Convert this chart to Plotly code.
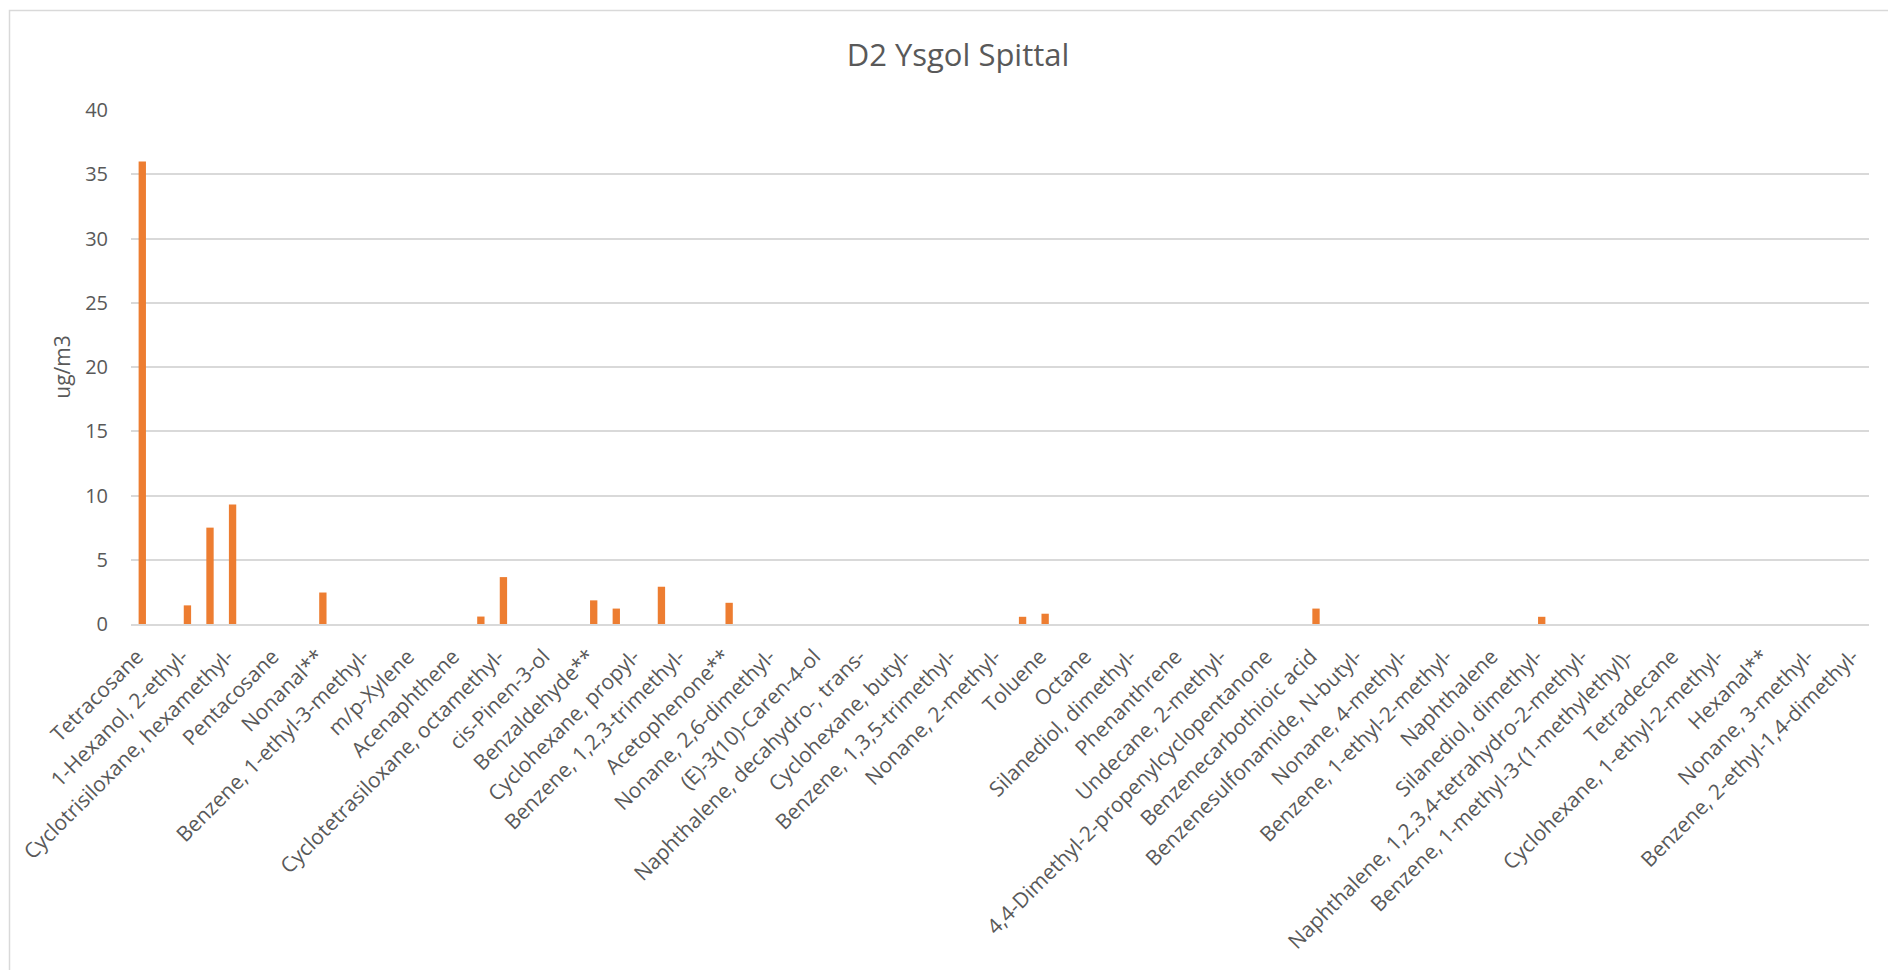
import plotly.graph_objects as go

# Category labels shown on the axis (every other compound is labelled)
shown_labels = [
    "Tetracosane", "1-Hexanol, 2-ethyl-", "Cyclotrisiloxane, hexamethyl-", "Pentacosane",
    "Nonanal**", "Benzene, 1-ethyl-3-methyl-", "m/p-Xylene", "Acenaphthene",
    "Cyclotetrasiloxane, octamethyl-", "cis-Pinen-3-ol", "Benzaldehyde**", "Cyclohexane, propyl-",
    "Benzene, 1,2,3-trimethyl-", "Acetophenone**", "Nonane, 2,6-dimethyl-", "(E)-3(10)-Caren-4-ol",
    "Naphthalene, decahydro-, trans-", "Cyclohexane, butyl-", "Benzene, 1,3,5-trimethyl-",
    "Nonane, 2-methyl-", "Toluene", "Octane", "Silanediol, dimethyl-", "Phenanthrene",
    "Undecane, 2-methyl-", "4,4-Dimethyl-2-propenylcyclopentanone", "Benzenecarbothioic acid",
    "Benzenesulfonamide, N-butyl-", "Nonane, 4-methyl-", "Benzene, 1-ethyl-2-methyl-",
    "Naphthalene", "Silanediol, dimethyl-", "Naphthalene, 1,2,3,4-tetrahydro-2-methyl-",
    "Benzene, 1-methyl-3-(1-methylethyl)-", "Tetradecane", "Cyclohexane, 1-ethyl-2-methyl-",
    "Hexanal**", "Nonane, 3-methyl-", "Benzene, 2-ethyl-1,4-dimethyl-",
]

# Compound positions (77 compounds in the chart)
compound_index = list(range(77))

# Concentrations (ug/m3) per compound
values = [
    36.0, 0, 1.45, 7.5, 9.3, 0, 0, 0, 2.45, 0,
    0, 0, 0, 0, 0, 0.58, 3.65, 0, 0, 0,
    1.84, 1.2, 0, 2.9, 0, 0, 1.65, 0, 0, 0,
    0, 0, 0, 0, 0, 0, 0, 0, 0, 0.56,
    0.8, 0, 0, 0, 0, 0, 0, 0, 0, 0,
    0, 0, 1.2, 0, 0, 0, 0, 0, 0, 0,
    0, 0, 0.56, 0, 0, 0, 0, 0, 0, 0,
    0, 0, 0, 0, 0, 0, 0,
]

label_positions = compound_index[::2]

W, H = 1888, 970
L, R = 131, 1869
T, B = 110.4, 623.6
pw, ph = R - L, B - T

def px_to_paper_x(px):
    return (px - L) / pw

def px_to_paper_y(py):
    return (B - py) / ph

FONT = "Open Sans"
TXT = "#595959"
GRID = "#d9d9d9"

fig = go.Figure(
    go.Bar(
        x=compound_index,
        y=values,
        marker=dict(color="#ED7D31", line=dict(width=0)),
        hoverinfo="x+y",
    )
)

fig.update_layout(
    width=W,
    height=H,
    margin=dict(l=L, r=W - R, t=T, b=H - B, autoexpand=False),
    paper_bgcolor="white",
    plot_bgcolor="white",
    bargap=0.675,
    showlegend=False,
    font=dict(family=FONT, color=TXT, size=20),
    title=dict(
        text="D2 Ysgol Spittal",
        x=px_to_paper_x(958),
        xref="paper",
        xanchor="center",
        y=1 - 55 / H,
        yref="container",
        yanchor="middle",
        font=dict(family=FONT, size=31, color=TXT),
    ),
    xaxis=dict(
        range=[-0.5, 76.5],
        tickmode="array",
        tickvals=label_positions,
        ticktext=shown_labels,
        tickangle=-45,
        showgrid=False,
        zeroline=False,
        showline=True,
        linecolor=GRID,
        linewidth=2,
        ticks="",
        ticklabelstandoff=10,
        ticklabelshift=-5,
        tickfont=dict(family=FONT, size=21, color=TXT),
        automargin=False,
    ),
    yaxis=dict(
        range=[0, 40],
        tickmode="linear",
        tick0=0,
        dtick=5,
        showgrid=True,
        gridcolor=GRID,
        gridwidth=2,
        zeroline=False,
        showline=False,
        ticks="",
        ticklabelstandoff=22,
        tickfont=dict(family=FONT, size=20, color=TXT),
        title=dict(text="ug/m3", font=dict(family=FONT, size=21, color=TXT), standoff=8),
        automargin=False,
    ),
    shapes=[
        dict(
            type="rect",
            xref="paper",
            yref="paper",
            x0=px_to_paper_x(9.5),
            x1=px_to_paper_x(1915),
            y0=px_to_paper_y(990),
            y1=px_to_paper_y(11),
            line=dict(color=GRID, width=1.5),
            fillcolor="rgba(0,0,0,0)",
            layer="below",
        )
    ],
)

fig.write_html(
    "out.html",
    config={"displayModeBar": False},
    post_script="document.body.style.margin='0';document.body.style.overflow='hidden';",
)
